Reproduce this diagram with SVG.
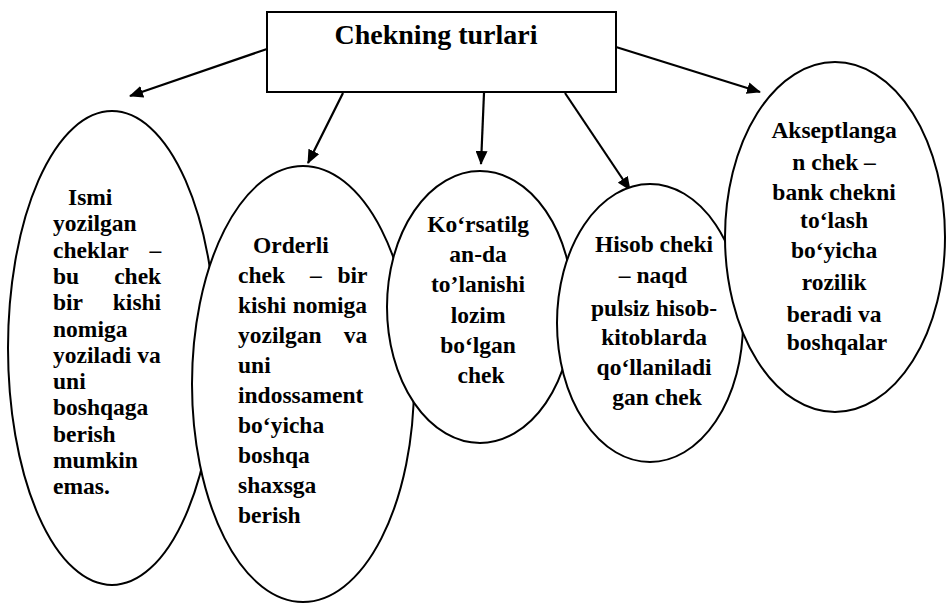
<svg xmlns="http://www.w3.org/2000/svg" width="947" height="604" viewBox="0 0 947 604">
<style>
.shape{fill:#fff;stroke:#000;stroke-width:2}
.t{font-family:"Liberation Serif","Times New Roman",serif;font-weight:bold;font-size:23.5px;fill:#000}
.c{text-anchor:middle}
.e{text-anchor:end}
.title{font-family:"Liberation Serif","Times New Roman",serif;font-weight:bold;font-size:28px;text-anchor:middle;fill:#000}
.conn{stroke:#000;stroke-width:2.2;fill:none;marker-end:url(#ah)}
</style>
<defs>
<marker id="ah" viewBox="0 0 14 12" refX="13" refY="6" markerWidth="14" markerHeight="12" markerUnits="userSpaceOnUse" orient="auto">
<path d="M0,0 L14,6 L0,12 Z" fill="#000"/>
</marker>
</defs>
<rect width="947" height="604" fill="#fff"/>
<g id="connectors">
<line class="conn" x1="267" y1="49" x2="130" y2="96"/>
<line class="conn" x1="343" y1="93" x2="308" y2="163"/>
<line class="conn" x1="484" y1="93" x2="481" y2="164"/>
<line class="conn" x1="565" y1="93" x2="630" y2="190"/>
<line class="conn" x1="616" y1="47" x2="760" y2="92"/>
</g>
<g id="title">
<rect class="shape" x="267" y="12" width="349" height="80"/>
<text class="title" x="436" y="44">Chekning turlari</text>
</g>
<g id="node1">
<ellipse class="shape" cx="112" cy="348" rx="104" ry="237"/>
<text class="t">
<tspan x="68" y="205">Ismi</tspan>
<tspan x="53" y="231.3">yozilgan</tspan>
<tspan x="53" y="257.6">cheklar</tspan><tspan class="e" x="167" y="257.6">–</tspan>
<tspan x="53" y="283.9">bu</tspan><tspan class="e" x="167" y="283.9">chek</tspan>
<tspan x="53" y="310.2">bir</tspan><tspan class="e" x="167" y="310.2">kishi</tspan>
<tspan x="53" y="336.5">nomiga</tspan>
<tspan x="53" y="362.8">yoziladi va</tspan>
<tspan x="53" y="389.1">uni</tspan>
<tspan x="53" y="415.4">boshqaga</tspan>
<tspan x="53" y="441.7">berish</tspan>
<tspan x="53" y="468">mumkin</tspan>
<tspan x="53" y="494.3">emas.</tspan>
</text>
</g>
<g id="node2">
<ellipse class="shape" cx="303" cy="384" rx="111" ry="218"/>
<text class="t">
<tspan x="253" y="253">Orderli</tspan>
<tspan x="238" y="283">chek</tspan><tspan x="310" y="283">–</tspan><tspan class="e" x="373" y="283">bir</tspan>
<tspan x="238" y="313">kishi</tspan><tspan class="e" x="373" y="313">nomiga</tspan>
<tspan x="238" y="343">yozilgan</tspan><tspan class="e" x="373" y="343">va</tspan>
<tspan x="238" y="373">uni</tspan>
<tspan x="238" y="403">indossament</tspan>
<tspan x="238" y="433">bo‘yicha</tspan>
<tspan x="238" y="463">boshqa</tspan>
<tspan x="238" y="493">shaxsga</tspan>
<tspan x="238" y="523">berish</tspan>
</text>
</g>
<g id="node3">
<ellipse class="shape" cx="480" cy="307" rx="93" ry="136"/>
<text class="t c">
<tspan x="481" y="232">Ko‘rsatilg</tspan>
<tspan x="481" y="262">an-da</tspan>
<tspan x="481" y="292">to’lanishi</tspan>
<tspan x="481" y="323">lozim</tspan>
<tspan x="481" y="353">bo‘lgan</tspan>
<tspan x="481" y="383">chek</tspan>
</text>
</g>
<g id="node4">
<ellipse class="shape" cx="650" cy="323" rx="93" ry="139"/>
<text class="t c">
<tspan x="657" y="252">Hisob cheki</tspan>
<tspan x="656" y="283">– naqd</tspan>
<tspan x="657" y="316">pulsiz hisob-</tspan>
<tspan x="657" y="345">kitoblarda</tspan>
<tspan x="657" y="375">qo‘llaniladi</tspan>
<tspan x="657" y="405">gan chek</tspan>
</text>
</g>
<g id="node5">
<ellipse class="shape" cx="835" cy="237" rx="110" ry="175"/>
<text class="t c">
<tspan x="837" y="138">Akseptlanga</tspan>
<tspan x="837" y="170">n chek –</tspan>
<tspan x="837" y="200">bank chekni</tspan>
<tspan x="837" y="228">to‘lash</tspan>
<tspan x="837" y="258">bo‘yicha</tspan>
<tspan x="837" y="290">rozilik</tspan>
<tspan x="837" y="322">beradi va</tspan>
<tspan x="837" y="350">boshqalar</tspan>
</text>
</g>
</svg>
